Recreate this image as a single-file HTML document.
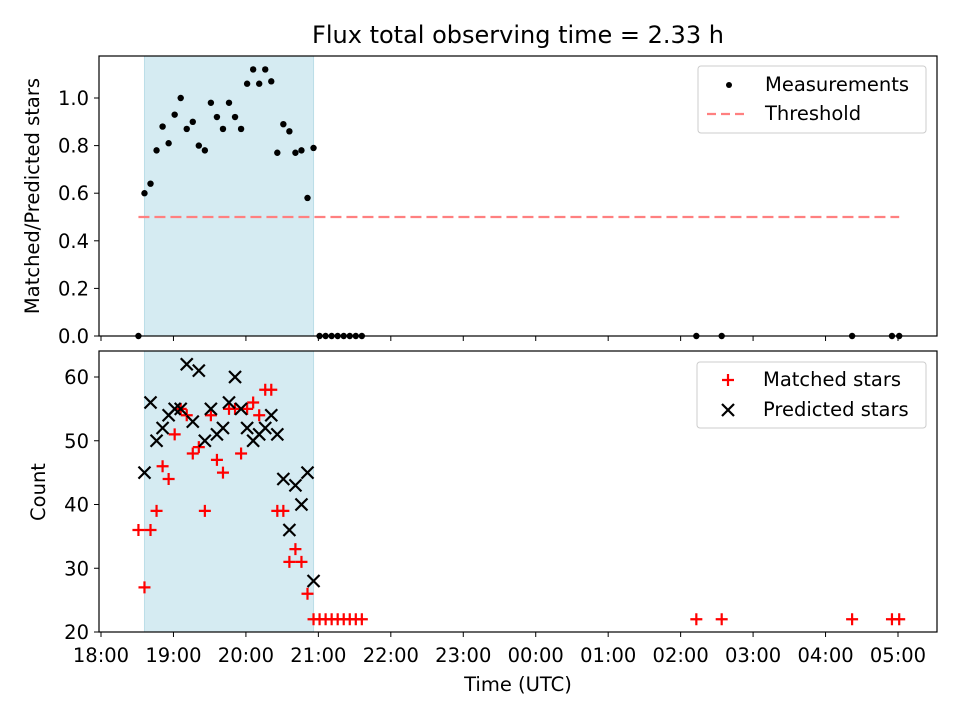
<!DOCTYPE html>
<html><head><meta charset="utf-8"><style>
body{margin:0;background:#fff}
svg{display:block;font-family:"DejaVu Sans","Liberation Sans",sans-serif}
</style></head><body>
<svg id="chart" width="960" height="720" viewBox="0 0 960 720">
<text x="518" y="43" font-size="24" text-anchor="middle">Flux total observing time = 2.33 h</text>
<g id="top"></g>
<g id="bot"></g>
</svg>
<script>
// time in minutes after 18:00
const times = [31,36,41,46,51,56,61,66,71,76,81,86,91,96,101,106,111,116,121,126,131,136,141,146,151,156,161,166,171,176,181,186,191,196,201,206,211,216,493,514,622,655,661];
const ratio = [0,0.60,0.64,0.78,0.88,0.81,0.93,1.0,0.87,0.90,0.80,0.78,0.98,0.92,0.87,0.98,0.92,0.87,1.06,1.12,1.06,1.12,1.07,0.77,0.89,0.86,0.77,0.78,0.58,0.79,0,0,0,0,0,0,0,0,0,0,0,0,0];
const matched = [36,27,36,39,46,44,51,55,54,48,49,39,54,47,45,55,55,48,55,56,54,58,58,39,39,31,33,31,26,22,22,22,22,22,22,22,22,22,22,22,22,22,22];
const predicted = [null,45,56,50,52,54,55,55,62,53,61,50,55,51,52,56,60,55,52,50,51,52,54,51,44,36,43,40,45,28];
const xTickLabels = ["18:00","19:00","20:00","21:00","22:00","23:00","00:00","01:00","02:00","03:00","04:00","05:00"];
const topTicks = [0,0.2,0.4,0.6,0.8,1.0];
const botTicks = [20,30,40,50,60];
const threshold = 0.5;
const spanStart = 36, spanEnd = 176;

const NS="http://www.w3.org/2000/svg";
const L=99,R=937;
const xMin=-1.66,xMax=692.3;
const X=m=>L+(m-xMin)/(xMax-xMin)*(R-L);
const T={top:56,bot:336,min:0,max:1.1765};
const B={top:351,bot:632,min:20,max:64.08};
const Y=(a,v)=>a.bot-(v-a.min)/(a.max-a.min)*(a.bot-a.top);
function mk(p,tag,attrs,txt){const e=document.createElementNS(NS,tag);for(const k in attrs)e.setAttribute(k,attrs[k]);if(txt!==undefined)e.textContent=txt;p.appendChild(e);return e;}
const gTop=document.getElementById('top'),gBot=document.getElementById('bot');
const FS=19.5;

function panel(g,a,ticks,fmt,showXLabels){
  const s=mk(g,'rect',{x:X(spanStart),y:a.top,width:X(spanEnd)-X(spanStart),height:a.bot-a.top,fill:'#d5ebf2',stroke:'#bcdde8','stroke-width':1});
  
  
  ticks.forEach(v=>{const y=Y(a,v);
    mk(g,'line',{x1:L-5,x2:L,y1:y,y2:y,stroke:'#000','stroke-width':1});
    const t=mk(g,'text',{x:L-10,y:y+7,'font-size':FS,'text-anchor':'end'},fmt(v));
    
    
  });
  xTickLabels.forEach((lab,i)=>{const x=X(i*60);
    mk(g,'line',{x1:x,x2:x,y1:a.bot,y2:a.bot+5,stroke:'#000','stroke-width':1});
    if(showXLabels){const t=mk(g,'text',{x:x,y:a.bot+30,'font-size':FS,'text-anchor':'middle'},lab);
      
      }
  });
}
panel(gTop,T,topTicks,v=>v.toFixed(1),false);
panel(gBot,B,botTicks,v=>String(v),true);

const th=mk(gTop,'line',{x1:X(times[0]),x2:X(times[times.length-1]),y1:Y(T,threshold),y2:Y(T,threshold),stroke:'#ff8080','stroke-width':2.2,'stroke-dasharray':'11,5'});


times.forEach((m,i)=>{const c=mk(gTop,'circle',{cx:X(m),cy:Y(T,ratio[i]),r:3.2,fill:'#000'});
  
  });
function plus(g,x,y,col){return mk(g,'path',{d:`M${x-6},${y}H${x+6}M${x},${y-6}V${y+6}`,stroke:col,'stroke-width':2.2,fill:'none'});}
function cross(g,x,y,col){return mk(g,'path',{d:`M${x-6},${y-6}L${x+6},${y+6}M${x-6},${y+6}L${x+6},${y-6}`,stroke:col,'stroke-width':2.2,fill:'none'});}
times.forEach((m,i)=>{const p=plus(gBot,X(m),Y(B,matched[i]),'#ff0000');
  
  });
predicted.forEach((v,i)=>{if(v==null)return;const p=cross(gBot,X(times[i]),Y(B,v),'#000');
  
  });

[T,B].forEach((a,k)=>{const r=mk(k?gBot:gTop,'rect',{x:L,y:a.top,width:R-L,height:a.bot-a.top,fill:'none',stroke:'#000','stroke-width':1.2});
  
  });

let t=mk(gTop,'text',{x:0,y:0,'font-size':FS,'text-anchor':'middle',transform:'translate(39,196) rotate(-90)'},'Matched/Predicted stars');

t=mk(gBot,'text',{x:0,y:0,'font-size':FS,'text-anchor':'middle',transform:'translate(45,492) rotate(-90)'},'Count');

t=mk(gBot,'text',{x:518,y:691,'font-size':FS,'text-anchor':'middle'},'Time (UTC)');


let lg=mk(gTop,'g',{});

mk(lg,'rect',{x:698,y:66,width:228,height:67,rx:3,fill:'#fff',stroke:'#ccc','stroke-width':1});
mk(lg,'circle',{cx:729,cy:85,r:3,fill:'#000'});
mk(lg,'text',{x:765,y:91,'font-size':FS},'Measurements');
mk(lg,'line',{x1:707,x2:749,y1:114,y2:114,stroke:'#ff8080','stroke-width':2.2,'stroke-dasharray':'9,5'});
mk(lg,'text',{x:765,y:120,'font-size':FS},'Threshold');
lg=mk(gBot,'g',{});

mk(lg,'rect',{x:697,y:362,width:229,height:66,rx:3,fill:'#fff',stroke:'#ccc','stroke-width':1});
plus(lg,728,380,'#ff0000');
mk(lg,'text',{x:763,y:386,'font-size':FS},'Matched stars');
cross(lg,728,410,'#000');
mk(lg,'text',{x:763,y:416,'font-size':FS},'Predicted stars');
</script>
</body></html>
